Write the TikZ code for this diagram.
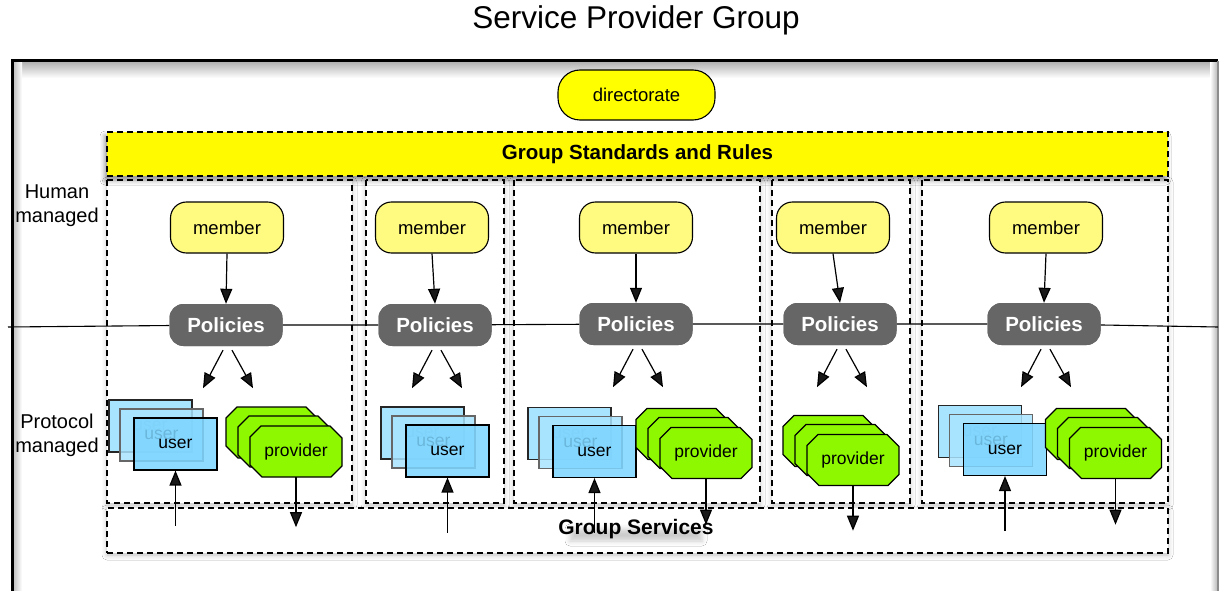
\documentclass[tikz,border=0pt]{standalone}
\usepackage{fontspec}
\setmainfont{Liberation Sans}
\usetikzlibrary{arrows.meta,shadows.blur}
\definecolor{diryellow}{HTML}{FFFF00}
\definecolor{baryellow}{HTML}{FFFA00}
\definecolor{memyellow}{HTML}{FFFA80}
\definecolor{polgrey}{HTML}{666666}
\definecolor{userblue}{HTML}{7DD5FF}
\definecolor{userpale}{HTML}{A9E4FF}
\definecolor{provgreen}{HTML}{8EF800}
\tikzset{
  arr/.style={line width=1.2pt,-{Triangle[length=15pt,width=12pt]}},
  dashbox/.style={draw,line width=1.2pt,dash pattern=on 6pt off 4pt},
  softshadow/.style={blur shadow={shadow xshift=0pt,shadow yshift=-2pt,shadow blur radius=5pt,shadow opacity=25}},
  memberbox/.style={draw,line width=1.1pt,fill=memyellow,rounded corners=16pt,
    minimum width=113pt,minimum height=51pt,font=\fontsize{18.5}{20}\selectfont},
  policybox/.style={fill=polgrey,rounded corners=14pt,text=white,
    minimum width=113pt,minimum height=42pt,font=\fontsize{20.5}{22}\selectfont\bfseries},
  userbox/.style={draw,line width=1.1pt,minimum width=83pt,minimum height=52pt,
    font=\fontsize{17.5}{19}\selectfont},
  provlabel/.style={minimum width=92pt,minimum height=51pt,inner sep=0pt,
    font=\fontsize{17.5}{19}\selectfont},
  provshape/.pic={
    \draw[line width=1.1pt,fill=provgreen]
      (-46,-14.5) -- (-35,-25.5) -- (34,-25.5) -- (46,-13.5) -- (46,14.5)
      -- (35,25.5) -- (-34,25.5) -- (-46,13.5) -- cycle;
  },
}
\begin{document}
\begin{tikzpicture}[x=1pt,y=-1pt]
\useasboundingbox (0,0) rectangle (1224,591);
\fill[white] (0,0) rectangle (1224,591);

% title
\node[font=\fontsize{31.5}{34}\selectfont] (title) at (636,20) {Service Provider Group};

% outer frame with inner shading
\shade[top color=black!30,bottom color=white] (13,62) rectangle (1218,78);
\shade[left color=black!25,right color=white] (13,62) rectangle (22,600);
\shade[left color=white,right color=black!30] (1210,62) rectangle (1218,600);
\draw[line width=3pt] (12,600) -- (12,61) -- (1218,61);
\draw[black!45,line width=2pt] (1218,61) -- (1218,600);

% directorate
\node[draw,line width=1.1pt,fill=diryellow,rounded corners=22pt,minimum width=157pt,
  minimum height=50pt,font=\fontsize{18.5}{20}\selectfont] (dir) at (636.5,95) {directorate};

% column frames
\foreach \l/\r in {107/352,366/504,514/760,772/910,922/1168}
  \draw[dashbox,softshadow,fill=white] (\l,180) rectangle (\r,503);

% standards bar
\node[dashbox,fill=baryellow,minimum width=1061pt,minimum height=44pt,
  blur shadow={shadow xshift=-2pt,shadow yshift=-4pt,shadow blur radius=5pt,shadow opacity=45},
  font=\fontsize{20.5}{22}\selectfont\bfseries] (rules) at (637.5,154) {Group Standards and Rules};

% group services bar, its label with a soft shadow beneath
\node[dashbox,fill=white,minimum width=1061pt,minimum height=45pt,softshadow] (services) at (637.5,530.5) {};
\path[blur shadow={shadow xshift=0pt,shadow yshift=-6pt,shadow blur radius=5pt,shadow opacity=20}]
  (570,523) rectangle (702,535);
\node[font=\fontsize{21}{23}\selectfont\bfseries] (gs) at (636,529) {Group Services};

% side labels
\node[align=center,font=\fontsize{20}{24}\selectfont] (hum) at (57,206) {Human\\managed};
\node[align=center,font=\fontsize{20}{24}\selectfont] (prot) at (57,435) {Protocol\\managed};

% members and policies
\foreach \i/\mx/\px/\py in {1/227/226/325,2/432/435/325,3/636/636/324,4/833/840/324,5/1046/1044/324}{
  \node[memberbox] (m\i) at (\mx,227.5) {member};
  \node[policybox] (p\i) at (\px,\py) {Policies};
}

% protocol boundary line
\coordinate (bl) at (8,327);
\coordinate (br) at (1218,327);
\draw[line width=1.1pt] (bl) -- (p1) -- (p2) -- (p3) -- (p4) -- (p5) -- (br);
\foreach \i in {1,...,5}
  \node[policybox] at (p\i) {Policies};

% member to policies, policies to agents
\foreach \i in {1,...,5}{
  \draw[arr] (m\i.south) -- (p\i.north);
  \draw[arr] ([shift={(-3pt,-4pt)}]p\i.south) -- ++(-20pt,-38pt);
  \draw[arr] ([shift={(6pt,-4pt)}]p\i.south) -- ++(21pt,-38pt);
}

% user stacks
\foreach \i/\ux/\uy in {1/175.5/444,2/447.5/451,3/594.5/451.5,5/1005/449.5}{
  \node[userbox,fill=userpale,draw=black!85] (u\i c) at (\ux-25,\uy-18) {user};
  \node[userbox,fill=userpale,fill opacity=0.85,text opacity=1,draw=black!60] (u\i b) at (\ux-14,\uy-9) {user};
  \node[userbox,fill=userblue,fill opacity=0.86,text opacity=1] (u\i) at (\ux,\uy) {user};
  \draw[arr] ([yshift=-55pt]u\i.south) -- (u\i.south);
}

% provider stacks
\foreach \i/\vx/\vy/\len in {1/296/451.5/50,3/706/453/46,4/853/460/45,5/1115.5/453/46}{
  \pic at (\vx-24,\vy-19) {provshape};
  \pic at (\vx-12,\vy-10) {provshape};
  \pic at (\vx,\vy) {provshape};
  \node[provlabel] (v\i) at (\vx,\vy) {provider};
  \draw[arr] (v\i.south) -- ([yshift=-\len pt]v\i.south);
}
\end{tikzpicture}
\end{document}
